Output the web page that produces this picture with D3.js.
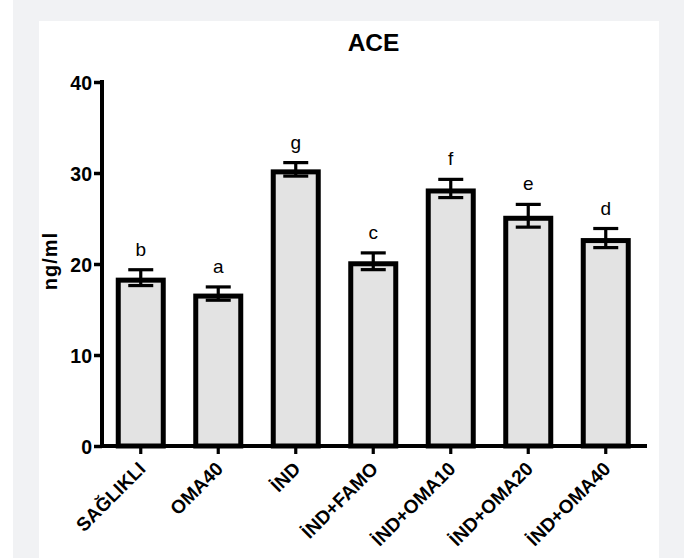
<!DOCTYPE html>
<html>
<head>
<meta charset="utf-8">
<script src="https://cdn.jsdelivr.net/npm/d3@7"></script>
<style>
  html, body { margin: 0; padding: 0; background: #ffffff; }
  svg { display: block; }
</style>
</head>
<body>
<div id="chart"></div>
<script>
// ACE levels per group (mean ± SEM) with significance letters
const groups  = ["SAĞLIKLI", "OMA40", "İND", "İND+FAMO", "İND+OMA10", "İND+OMA20", "İND+OMA40"];
const means   = [18.5, 16.75, 30.4, 20.3, 28.3, 25.3, 22.85];
const sems    = [0.87, 0.73, 0.74, 0.92, 1.0, 1.25, 1.05];
const letters = ["b", "a", "g", "c", "f", "e", "d"];
const yTicks  = [0, 10, 20, 30, 40];

const W = 688, H = 558;
const FONT = "'Liberation Sans', Arial, Helvetica, sans-serif";

const svg = d3.select("#chart").append("svg")
  .attr("width", W).attr("height", H);

// page backdrop and white plot card
svg.append("rect").attr("x", 13).attr("y", 0).attr("width", 671).attr("height", H)
  .attr("fill", "#f1f2f4");
svg.append("rect").attr("x", 39).attr("y", 21).attr("width", 620).attr("height", H - 21)
  .attr("fill", "#ffffff");

const x = d3.scaleBand().domain(groups).range([102, 644.5]).padding(0);
const y = d3.scaleLinear().domain([0, 40]).range([446, 82]);

const barW = 50, sw = 5;

// bars (stroke kept inside the outline so the outer top edge sits at the mean)
svg.append("g").selectAll("rect").data(groups).join("rect")
  .attr("x", (d) => x(d) + x.bandwidth() / 2 - barW / 2 + sw / 2)
  .attr("y", (d, i) => y(means[i]) + sw / 2)
  .attr("width", barW - sw)
  .attr("height", (d, i) => y(0) - y(means[i]) - sw / 2)
  .attr("fill", "#e3e3e3")
  .attr("stroke", "#000")
  .attr("stroke-width", sw);

// error bars
const eb = svg.append("g").attr("stroke", "#000").attr("stroke-width", 3.2).attr("fill", "none");
groups.forEach((g, i) => {
  const cx = x(g) + x.bandwidth() / 2;
  const hi = y(means[i] + sems[i]), lo = y(means[i] - sems[i]);
  eb.append("line").attr("x1", cx).attr("x2", cx).attr("y1", hi).attr("y2", lo);
  eb.append("line").attr("x1", cx - 12.5).attr("x2", cx + 12.5).attr("y1", hi).attr("y2", hi);
  eb.append("line").attr("x1", cx - 12.5).attr("x2", cx + 12.5).attr("y1", lo).attr("y2", lo);
});

// significance letters
svg.append("g").selectAll("text").data(groups).join("text")
  .attr("x", (d) => x(d) + x.bandwidth() / 2)
  .attr("y", (d, i) => y(means[i] + sems[i]) - 14)
  .attr("text-anchor", "middle")
  .attr("font-family", FONT)
  .attr("font-size", 19)
  .attr("fill", "#000")
  .text((d, i) => letters[i]);

// y axis
const yAxis = svg.append("g").attr("transform", "translate(102,0)")
  .call(d3.axisLeft(y).tickValues(yTicks).tickSize(8).tickPadding(2));
yAxis.select(".domain").attr("stroke-width", 4).attr("d", `M0,${y(0) + 2}V${y(40) - 2}`);
yAxis.selectAll(".tick line").attr("stroke-width", 3.5);
yAxis.selectAll(".tick text")
  .attr("font-family", FONT).attr("font-size", 19.5).attr("font-weight", "bold").attr("fill", "#000")
  .attr("dy", "0.36em");

// x axis
const xAxis = svg.append("g").attr("transform", `translate(0,${y(0)})`)
  .call(d3.axisBottom(x).tickSize(8).tickFormat(""));
xAxis.select(".domain").attr("stroke-width", 4).attr("d", "M100,0H647");
xAxis.selectAll(".tick line").attr("stroke-width", 3.2);

// rotated category labels
svg.append("g").selectAll("text").data(groups).join("text")
  .attr("transform", (d) => `translate(${x(d) + x.bandwidth() / 2 + 6},${y(0) + 24}) rotate(-45)`)
  .attr("text-anchor", "end")
  .attr("font-family", FONT)
  .attr("font-size", 19)
  .attr("font-weight", "bold")
  .attr("fill", "#000")
  .text((d) => d);

// y axis title
svg.append("text")
  .attr("transform", "translate(57,261) rotate(-90)")
  .attr("text-anchor", "middle")
  .attr("font-family", FONT)
  .attr("font-size", 20)
  .attr("font-weight", "bold")
  .attr("letter-spacing", 1)
  .attr("fill", "#000")
  .text("ng/ml");

// chart title
svg.append("text")
  .attr("x", 373.5).attr("y", 50.5)
  .attr("text-anchor", "middle")
  .attr("font-family", FONT)
  .attr("font-size", 24.5)
  .attr("font-weight", "bold")
  .attr("fill", "#000")
  .text("ACE");
</script>
</body>
</html>
